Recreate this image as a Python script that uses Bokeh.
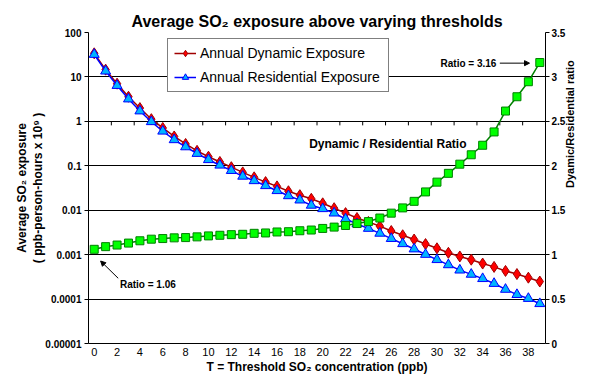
import math
from bokeh.plotting import figure
from bokeh.models import (Range1d, LinearAxis, LinearScale, FixedTicker, CustomJSTickFormatter,
                          Legend, LegendItem, Label, Arrow, NormalHead)
from bokeh.embed import file_html
from bokeh.resources import INLINE

# ---------------- data ----------------
thresholds = list(range(40))
dynamic = [34, 14.6, 7.05, 3.58, 1.99, 1.12, 0.71, 0.457, 0.31, 0.217,
           0.16, 0.122, 0.093, 0.071, 0.055, 0.043, 0.0344, 0.0267, 0.0218, 0.0181,
           0.0143, 0.0111, 0.0086, 0.00667, 0.00545, 0.00438, 0.0034, 0.00273, 0.00219, 0.00173,
           0.00139, 0.0011, 0.00091, 0.00077, 0.00063, 0.00053, 0.00043, 0.000366, 0.000303, 0.000248]
residential = [32, 13.5, 6.4, 3.18, 1.71, 0.98, 0.60, 0.385, 0.266, 0.189,
               0.137, 0.103, 0.078, 0.058, 0.046, 0.0356, 0.0275, 0.0211, 0.0169, 0.0129,
               0.0108, 0.0086, 0.00634, 0.00492, 0.00389, 0.00302, 0.0023, 0.00176, 0.00134, 0.00101,
               0.00077, 0.00059, 0.000448, 0.00036, 0.000288, 0.000224, 0.000165, 0.000126, 0.000103, 0.0000787]
ratio = [1.06, 1.09, 1.108, 1.13, 1.156, 1.174, 1.181, 1.189, 1.192, 1.2,
         1.211, 1.218, 1.225, 1.229, 1.24, 1.244, 1.255, 1.258, 1.269, 1.277,
         1.295, 1.31, 1.328, 1.35, 1.372, 1.412, 1.467, 1.526, 1.6, 1.706,
         1.816, 1.915, 2.018, 2.124, 2.231, 2.381, 2.616, 2.777, 2.946, 3.162]

x_tick_values = thresholds[::2]
exposure_ticks = [1e-5, 1e-4, 1e-3, 1e-2, 0.1, 1, 10, 100]
exposure_tick_labels = ["0.00001", "0.0001", "0.001", "0.01", "0.1", "1", "10", "100"]
ratio_ticks = [0, 0.5, 1, 1.5, 2, 2.5, 3, 3.5]
ratio_tick_labels = ["0", "0.5", "1", "1.5", "2", "2.5", "3", "3.5"]

title_text = "Average SO\u2082 exposure above varying thresholds"
x_label = "T = Threshold SO\u2082 concentration (ppb)"
y_label = "Average SO\u2082 exposure\n( ppb-person-hours x 10\u2079 )"
y2_label = "Dyamic/Residential ratio"
series_names = ["Annual Dynamic Exposure", "Annual Residential Exposure"]
ratio_name = "Dynamic / Residential Ratio"
first_ratio_note = "Ratio = %.2f" % ratio[0]
last_ratio_note = "Ratio = %.2f" % ratio[-1]

FONT = "Liberation Sans"

fmt_code = """
for (let i = 0; i < vals.length; i++) {
  if (Math.abs(vals[i] - tick) <= Math.abs(vals[i]) * 1e-6 + 1e-12) { return labs[i]; }
}
return '';
"""

p = figure(width=585, height=376, output_backend="svg", toolbar_location=None,
           y_axis_type="log",
           x_range=Range1d(thresholds[0] - 0.5, thresholds[-1] + 0.5),
           y_range=Range1d(exposure_ticks[0], exposure_ticks[-1]),
           min_border_left=88, min_border_right=33, min_border_top=32, min_border_bottom=33)
p.extra_y_ranges = {"ratio": Range1d(ratio_ticks[0], ratio_ticks[-1])}
p.extra_y_scales = {"ratio": LinearScale()}
p.outline_line_color = None
p.background_fill_color = "white"
p.border_fill_color = "white"

# title
p.title.text = title_text
p.title.align = "center"
p.title.text_font = FONT
p.title.text_font_size = "16px"
p.title.text_font_style = "bold"
p.title.text_color = "black"
p.title.standoff = 6

# grids
p.xgrid.visible = False
p.ygrid.ticker = FixedTicker(ticks=exposure_ticks)
p.ygrid.grid_line_color = "black"
p.ygrid.grid_line_width = 1

# x axis
xa = p.xaxis[0]
xa.ticker = FixedTicker(ticks=x_tick_values)
xa.major_tick_out = 0
xa.major_tick_in = 0
xa.minor_tick_out = 0
xa.minor_tick_in = 0
xa.axis_line_color = "black"
xa.major_label_text_font = FONT
xa.major_label_text_font_size = "11px"
xa.major_label_text_color = "black"
xa.major_label_standoff = 4
xa.axis_label = x_label
xa.axis_label_text_font = FONT
xa.axis_label_text_font_size = "12px"
xa.axis_label_text_font_style = "bold"
xa.axis_label_text_color = "black"
xa.axis_label_standoff = 1

# left axis
ya = p.yaxis[0]
ya.ticker = FixedTicker(ticks=exposure_ticks)
ya.formatter = CustomJSTickFormatter(args=dict(vals=exposure_ticks, labs=exposure_tick_labels), code=fmt_code)
ya.major_tick_out = 4
ya.major_tick_in = 0
ya.minor_tick_out = 0
ya.minor_tick_in = 0
ya.axis_line_color = "black"
ya.major_tick_line_color = "black"
ya.major_label_text_font = FONT
ya.major_label_text_font_size = "10px"
ya.major_label_text_font_style = "bold"
ya.major_label_text_color = "black"
ya.major_label_standoff = 3
ya.axis_label = y_label
ya.axis_label_text_font = FONT
ya.axis_label_text_font_size = "12px"
ya.axis_label_text_font_style = "bold"
ya.axis_label_text_color = "black"
ya.axis_label_standoff = -3

# right axis
ra = LinearAxis(y_range_name="ratio", ticker=FixedTicker(ticks=ratio_ticks),
                formatter=CustomJSTickFormatter(args=dict(vals=ratio_ticks, labs=ratio_tick_labels), code=fmt_code))
ra.major_tick_out = 4
ra.major_tick_in = 0
ra.minor_tick_out = 0
ra.minor_tick_in = 0
ra.axis_line_color = "black"
ra.major_tick_line_color = "black"
ra.major_label_text_font = FONT
ra.major_label_text_font_size = "10px"
ra.major_label_text_font_style = "bold"
ra.major_label_text_color = "black"
ra.major_label_standoff = 2
ra.axis_label = y2_label
ra.axis_label_text_font = FONT
ra.axis_label_text_font_size = "11px"
ra.axis_label_text_font_style = "bold"
ra.axis_label_text_color = "black"
ra.axis_label_standoff = 2
try:
    ra.axis_label_orientation = math.pi / 2
    ra.axis_label_text_baseline = "top"
except Exception:
    pass
p.add_layout(ra, "right")

# category-axis tick marks on the line at 1 (Excel axis crossing)
xt = [c + 0.5 for c in thresholds if c % 2 == 1]
tick_drop = 10 ** (-4 / 44.4)
p.segment(x0=xt, y0=[1] * len(xt), x1=xt, y1=[tick_drop] * len(xt), line_color="black", line_width=1)

# series
red_line = p.line(thresholds, dynamic, line_color="#A00000", line_width=1.5)
red_pts = p.scatter(thresholds, dynamic, marker="diamond", size=11, fill_color="#FF0000",
                    line_color="#A00000", line_width=1)
blue_line = p.line(thresholds, residential, line_color="#0000FF", line_width=1.5)
blue_pts = p.scatter(thresholds, residential, marker="triangle", size=10, fill_color="#00B4FF",
                     line_color="#0000FF", line_width=1)
green_line = p.line(thresholds, ratio, y_range_name="ratio", line_color="#008000", line_width=1.5)
green_pts = p.scatter(thresholds, ratio, y_range_name="ratio", marker="square", size=8,
                      fill_color="#00FF00", line_color="#008000", line_width=1)

# legend
legend = Legend(items=[LegendItem(label=series_names[0], renderers=[red_line, red_pts]),
                       LegendItem(label=series_names[1], renderers=[blue_line, blue_pts])],
                location=(79, 251), orientation="vertical")
legend.label_text_font = FONT
legend.label_text_font_size = "14px"
legend.label_text_color = "black"
legend.padding = 6
legend.spacing = 8
legend.margin = 0
legend.glyph_width = 22
legend.glyph_height = 16
legend.label_height = 16
legend.label_standoff = 4
legend.label_width = 182
legend.border_line_color = "black"
legend.border_line_width = 1
legend.background_fill_color = "white"
legend.background_fill_alpha = 1
p.add_layout(legend)

# annotations
p.add_layout(Label(x=25.7, y=2.245, y_range_name="ratio", text=ratio_name,
                   text_font=FONT, text_font_size="12px", text_font_style="bold",
                   text_color="black", text_align="center", text_baseline="middle"))
p.add_layout(Label(x=35.2, y=3.155, y_range_name="ratio", text=last_ratio_note,
                   text_font=FONT, text_font_size="10px", text_font_style="bold",
                   text_color="black", text_align="right", text_baseline="middle"))
p.add_layout(Arrow(x_start=35.5, y_start=3.155, x_end=38.1, y_end=3.155, y_range_name="ratio",
                   line_color="black", line_width=1,
                   end=NormalHead(size=5, fill_color="black", line_color="black")))
p.add_layout(Label(x=2.25, y=0.66, y_range_name="ratio", text=first_ratio_note,
                   text_font=FONT, text_font_size="10px", text_font_style="bold",
                   text_color="black", text_align="left", text_baseline="middle"))
p.add_layout(Arrow(x_start=2.1, y_start=0.734, x_end=0.56, y_end=0.928, y_range_name="ratio",
                   line_color="black", line_width=1,
                   end=NormalHead(size=5, fill_color="black", line_color="black")))

open("out.html", "w").write(file_html(p, INLINE))
